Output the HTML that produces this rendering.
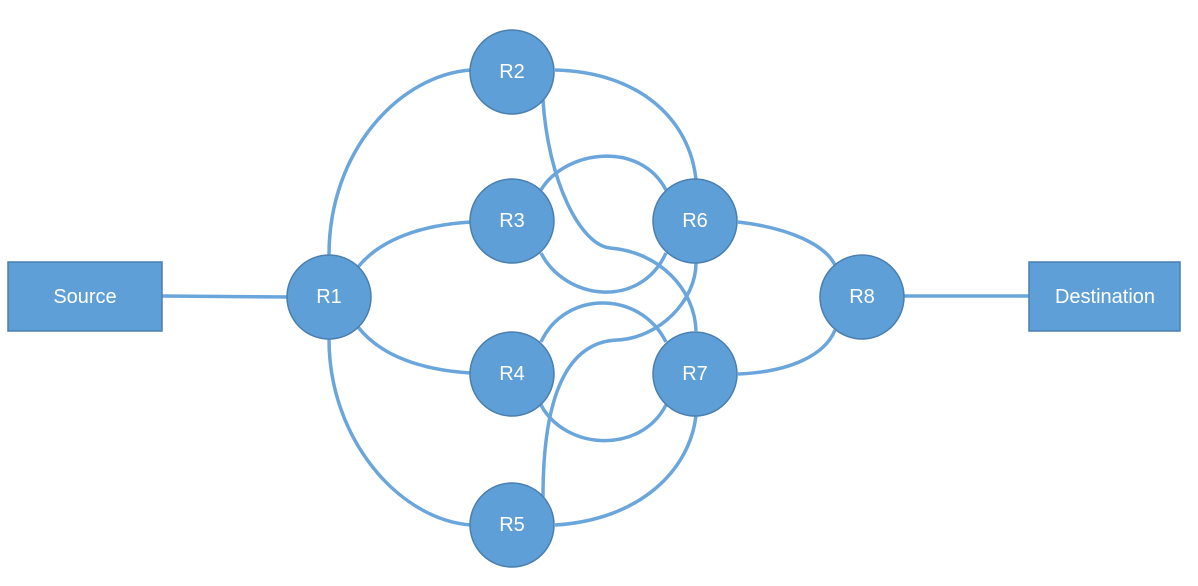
<!DOCTYPE html>
<html><head><style>
html,body{margin:0;padding:0;background:#fff;}
svg{display:block;}
text{font-family:"Liberation Sans",sans-serif;font-size:20px;fill:#fff;text-anchor:middle;dominant-baseline:central;}
</style></head><body>
<svg width="1198" height="586" viewBox="0 0 1198 586" xmlns="http://www.w3.org/2000/svg">
<g fill="none" stroke="#6aa6dc" stroke-width="3.5">
<line x1="162" y1="296" x2="290" y2="297"/>
<line x1="904" y1="296" x2="1029" y2="296"/>
<path d="M329,255 C329,150 400,75 471,70"/>
<path d="M329,339 C329,440 400,520 471,525"/>
<path d="M358,267 C380,240 420,225 471,222"/>
<path d="M358,327 C380,355 420,370 471,373"/>
<path d="M555,70 C640,72 690,120 696,180"/>
<path d="M555,525 C640,520 690,470 696,415"/>
<path d="M541,190 C565,150 640,140 666,190"/>
<path d="M541,253 C565,300 640,310 666,253"/>
<path d="M541,342 C565,290 640,290 666,342"/>
<path d="M541,405 C565,450 640,455 666,405"/>
<path d="M543,100 C548,180 580,245 610,248 C660,252 695,290 696,331"/>
<path d="M696,263 C696,300 660,338 617,340 C570,342 543,390 543,497"/>
<path d="M738,222 C790,228 825,245 835,265"/>
<path d="M738,374 C790,372 825,355 835,330"/>
</g>
<g fill="#5f9fd7" stroke="#4a7fb0" stroke-width="1.5">
<rect x="8" y="262" width="154" height="69"/>
<rect x="1029" y="262" width="151" height="69"/>
<circle cx="329" cy="297" r="42"/>
<circle cx="512" cy="72" r="42"/>
<circle cx="512" cy="221" r="42"/>
<circle cx="512" cy="374" r="42"/>
<circle cx="512" cy="525" r="42"/>
<circle cx="695" cy="221" r="42"/>
<circle cx="695" cy="374" r="42"/>
<circle cx="862" cy="297" r="42"/>
</g>
<text x="85" y="297">Source</text>
<text x="1105" y="297">Destination</text>
<text x="329" y="297">R1</text>
<text x="512" y="72">R2</text>
<text x="512" y="221">R3</text>
<text x="512" y="374">R4</text>
<text x="512" y="525">R5</text>
<text x="695" y="221">R6</text>
<text x="695" y="374">R7</text>
<text x="862" y="297">R8</text>
</svg>
</body></html>
